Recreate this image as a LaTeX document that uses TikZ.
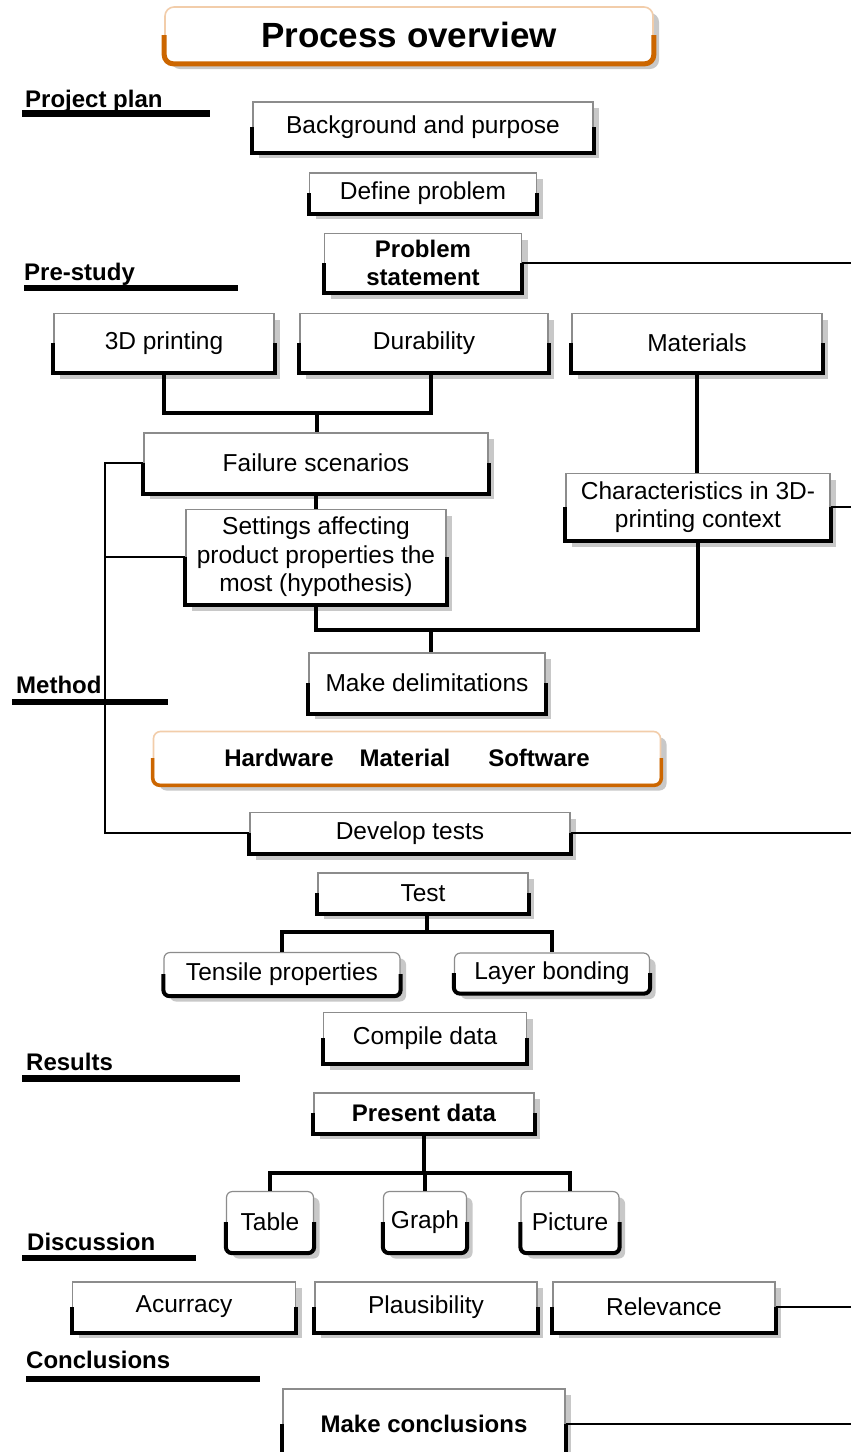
\documentclass[tikz,border=0pt]{standalone}
\usepackage{fontspec}
\setmainfont{Liberation Sans}
\usetikzlibrary{shadows}
\definecolor{orangedark}{RGB}{204,102,0}
\definecolor{orangelight}{RGB}{242,205,170}
\definecolor{shadowgray}{RGB}{200,200,200}
\newcommand\regfont{\fontsize{24.5}{28.5}\selectfont}
\newcommand\bldfont{\fontsize{24}{28.5}\selectfont\bfseries}
\newcommand\headfont{\fontsize{35}{40}\selectfont\bfseries}
\begin{document}
\begin{tikzpicture}[x=1pt,y=-1pt,
  sz/.style 2 args={minimum width=#1pt, minimum height=#2pt},
  box/.style={draw=black!45, line width=1.2pt, fill=white, inner sep=0pt,
    align=center, font=\regfont,
    drop shadow={fill=shadowgray, opacity=1, shadow xshift=6pt, shadow yshift=-6pt}},
  rbox/.style={box, rounded corners=6pt},
  obox/.style={box, draw=orangelight, line width=1.6pt, rounded corners=9pt},
  base/.style={line width=4pt, line join=miter, draw=black},
  obase/.style={line width=5pt, draw=orangedark, rounded corners=9pt},
  link/.style={line width=4.5pt, line join=miter},
  wire/.style={line width=1.4pt},
  section/.style={anchor=base west, inner sep=0pt, font=\bldfont},
  rule/.style={line width=6.5pt},
]
\fill[white] (0,0) rectangle (851,1452);
\useasboundingbox (0,0) rectangle (851,1452);

% title
\node[obox, sz={488}{56}, font=\headfont] (title) at (409,35) {Process overview};

% section headings with their rules
\node[section] (sPlan) at (25,107) {Project plan};
\draw[rule] (22,113.5) -- (210,113.5);
\node[section] (sPre) at (24,280) {Pre-study};
\draw[rule] (24,288) -- (238,288);
\node[section] (sMethod) at (16,693) {Method};
\draw[rule] (12,702) -- (168,702);
\node[section] (sRes) at (26,1070) {Results};
\draw[rule] (22,1078.5) -- (240,1078.5);
\node[section] (sDisc) at (27,1250) {Discussion};
\draw[rule] (22,1258) -- (196,1258);
\node[section] (sConc) at (26,1368) {Conclusions};
\draw[rule] (26,1379) -- (260,1379);

% steps
\node[box, sz={340}{50}] (bg) at (423,127) {Background and purpose};
\node[box, sz={227}{40}] (def) at (423,193) {Define problem};
\node[box, sz={197}{59}, font=\bldfont] (ps) at (423,263) {Problem\\statement};
\node[box, sz={220}{59}] (p3d) at (164,343) {3D printing};
\node[box, sz={248}{59}] (dur) at (424,343) {Durability};
\node[box, sz={250}{59}] (mat) at (697,343) {Materials};
\node[box, sz={344}{60}] (fail) at (316,463) {Failure scenarios};
\node[box, sz={264}{67}] (char) at (698,507) {Characteristics in 3D-\\printing context};
\node[box, sz={260}{95}] (set) at (316,557) {Settings affecting\\product properties the\\most (hypothesis)};
\node[box, sz={236}{60}] (del) at (427,683) {Make delimitations};
\node[obox, sz={507}{53}, font=\bldfont, rounded corners=7pt] (hw) at (407,758)
  {Hardware\hspace{26pt}Material\hspace{38pt}Software};
\node[box, sz={320}{41}] (dev) at (410,833) {Develop tests};
\node[box, sz={210}{40}] (test) at (423,893) {Test};
\node[rbox, sz={236}{43}] (ten) at (282,974) {Tensile properties};
\node[rbox, sz={195}{40}] (lay) at (552,973) {Layer bonding};
\node[box, sz={203}{51}] (comp) at (425,1038) {Compile data};
\node[box, sz={220}{40}, font=\bldfont] (pres) at (424,1113) {Present data};
\node[rbox, sz={87}{61}] (tab) at (270,1222) {Table};
\node[rbox, sz={83}{61}] (gra) at (425,1222) {Graph};
\node[rbox, sz={98}{61}] (pic) at (570,1222) {Picture};
\node[box, sz={223}{50}] (acc) at (184,1307) {Acurracy};
\node[box, sz={222}{50}] (pla) at (426,1307) {Plausibility};
\node[box, sz={222}{50}] (rel) at (664,1307) {Relevance};
\node[box, sz={282}{70}, font=\bldfont] (mc) at (424,1424) {Make conclusions};

% heavy lower rims of the boxes
\foreach \n in {bg,def,ps,p3d,dur,mat,fail,char,set,del,dev,test,comp,pres,acc,pla,rel,mc}
  \draw[base] (\n.west) -- (\n.south west) -- (\n.south east) -- (\n.east);
\foreach \n in {ten,lay,tab,gra,pic}
  \draw[base, rounded corners=6pt] (\n.west) -- (\n.south west) -- (\n.south east) -- (\n.east);
\draw[obase] (title.west) -- (title.south west) -- (title.south east) -- (title.east);
\draw[obase, line width=3.5pt, rounded corners=7pt] (hw.west) -- (hw.south west) -- (hw.south east) -- (hw.east);

% reference points for the connectors
\coordinate (R) at (851,0);
\coordinate (L) at (105,0);
\coordinate (j1) at (317,413);
\coordinate (durin) at ([xshift=7pt]dur.south);
\coordinate (j2) at (431,630);
\coordinate (j3) at (427,932);
\coordinate (j4) at (425,1173);

% thin lines
\draw[wire] (ps.east) -- (ps.east -| R);
\draw[wire] (char.east) -- (char.east -| R);
\draw[wire] (dev.east) -- (dev.east -| R);
\draw[wire] (rel.east) -- (rel.east -| R);
\draw[wire] (mc.east) -- (mc.east -| R);
\draw[wire] (fail.west) -- (fail.west -| L) -- (dev.west -| L) -- (dev.west);
\draw[wire] (set.west) -- (set.west -| L);

% heavy connectors
\draw[link] (p3d.south) |- (durin |- j1) -- (durin);
\draw[link] (j1) -- (j1 |- fail.north);
\draw[link] (mat.south) -- (mat.south |- char.north);
\draw[link] (fail.south) -- (fail.south |- set.north);
\draw[link] (set.south) |- (char.south |- j2) -- (char.south);
\draw[link] (j2) -- (j2 |- del.north);
\draw[link] (j3 |- test.south) -- (j3);
\draw[link] (ten.north) |- (lay.north |- j3) -- (lay.north);
\draw[link] (pres.south) -- (pres.south |- j4);
\draw[link] (tab.north) |- (pic.north |- j4) -- (pic.north);
\draw[link] (gra.north) -- (gra.north |- j4);
\end{tikzpicture}
\end{document}
